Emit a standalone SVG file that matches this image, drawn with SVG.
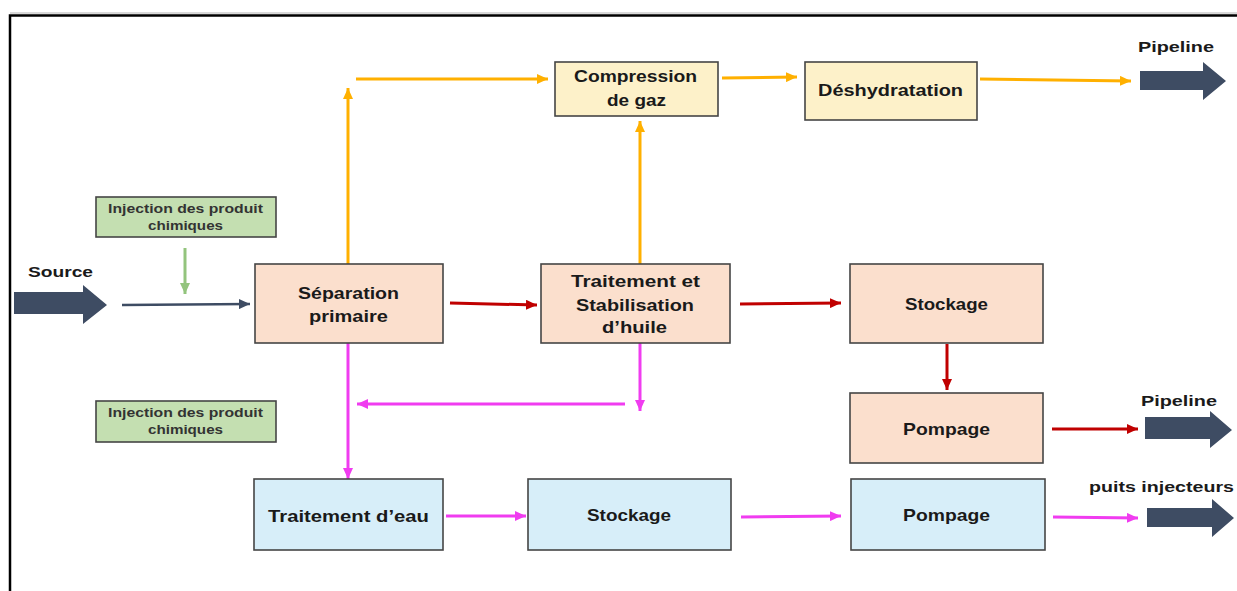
<svg xmlns="http://www.w3.org/2000/svg" width="1237" height="591" viewBox="0 0 1237 591">
<style>
text{font-family:"Liberation Sans",Arial,sans-serif;font-weight:bold;fill:#1a1a1a;text-anchor:middle}
.lbl{font-size:16.5px}
.inj{font-size:13px;fill:#333}
.ext{font-size:15px}
.box{stroke:#454545;stroke-width:1.6}
.peach{fill:#fbdfcd}
.yel{fill:#fdf1c9}
.blue{fill:#d7eef9}
.grn{fill:#c4dfb1}
.big{fill:#3e4c63}
.c{fill:none;stroke-width:3}
.o{stroke:#ffb000}
.r{stroke:#c00000}
.m{stroke:#f03cf0}
.g{stroke:#93c47d}
.n{stroke:#3e4c63;stroke-width:2.5}
</style>
<defs>
<marker id="ao" markerUnits="userSpaceOnUse" markerWidth="11" markerHeight="10" refX="11" refY="5" orient="auto"><path d="M0,0 L11,5 L0,10 z" fill="#ffb000"/></marker>
<marker id="ar" markerUnits="userSpaceOnUse" markerWidth="11" markerHeight="10" refX="11" refY="5" orient="auto"><path d="M0,0 L11,5 L0,10 z" fill="#c00000"/></marker>
<marker id="am" markerUnits="userSpaceOnUse" markerWidth="11" markerHeight="10" refX="11" refY="5" orient="auto"><path d="M0,0 L11,5 L0,10 z" fill="#f03cf0"/></marker>
<marker id="ag" markerUnits="userSpaceOnUse" markerWidth="11" markerHeight="10" refX="11" refY="5" orient="auto"><path d="M0,0 L11,5 L0,10 z" fill="#93c47d"/></marker>
<marker id="an" markerUnits="userSpaceOnUse" markerWidth="11" markerHeight="10" refX="11" refY="5" orient="auto"><path d="M0,0 L11,5 L0,10 z" fill="#3e4c63"/></marker>
</defs>
<rect width="1237" height="591" fill="#ffffff"/>
<line x1="10" y1="13" x2="1237" y2="13" stroke="#d9d9d9" stroke-width="2"/>
<path d="M10,591 V15.5 H1237" fill="none" stroke="#000" stroke-width="2.5"/>

<g id="connectors">
<line class="c n" x1="122" y1="305" x2="250" y2="304" marker-end="url(#an)"/>
<line class="c g" x1="185" y1="248" x2="185" y2="294" marker-end="url(#ag)"/>
<line class="c o" x1="348" y1="264" x2="348" y2="88" marker-end="url(#ao)"/>
<line class="c o" x1="356" y1="79" x2="548" y2="79" marker-end="url(#ao)"/>
<line class="c o" x1="640" y1="264" x2="640" y2="121" marker-end="url(#ao)"/>
<line class="c o" x1="722" y1="78" x2="797" y2="77" marker-end="url(#ao)"/>
<line class="c o" x1="980" y1="79" x2="1131" y2="81" marker-end="url(#ao)"/>
<line class="c r" x1="450" y1="303" x2="537" y2="305" marker-end="url(#ar)"/>
<line class="c r" x1="740" y1="304" x2="841" y2="303" marker-end="url(#ar)"/>
<line class="c r" x1="947" y1="344" x2="947" y2="390" marker-end="url(#ar)"/>
<line class="c r" x1="1052" y1="429" x2="1138" y2="429" marker-end="url(#ar)"/>
<line class="c m" x1="348" y1="343" x2="348" y2="479" marker-end="url(#am)"/>
<line class="c m" x1="640" y1="343" x2="640" y2="411" marker-end="url(#am)"/>
<line class="c m" x1="625" y1="404" x2="357" y2="404" marker-end="url(#am)"/>
<line class="c m" x1="446" y1="516" x2="526" y2="516" marker-end="url(#am)"/>
<line class="c m" x1="741" y1="517" x2="841" y2="516" marker-end="url(#am)"/>
<line class="c m" x1="1053" y1="517" x2="1138" y2="518" marker-end="url(#am)"/>
</g>

<g id="source">
<polygon class="big" points="14,292 83,292 83,285 107,305 83,324 83,314 14,314"/>
<text class="ext" x="60.5" y="277" textLength="65" lengthAdjust="spacingAndGlyphs">Source</text>
</g>
<g id="pipeline-gas">
<polygon class="big" points="1140,71 1203,71 1203,62 1226,81 1203,100 1203,90 1140,90"/>
<text class="ext" x="1176" y="52" textLength="76" lengthAdjust="spacingAndGlyphs">Pipeline</text>
</g>
<g id="pipeline-oil">
<polygon class="big" points="1145,417 1210,417 1210,411 1232,430 1210,448 1210,439 1145,439"/>
<text class="ext" x="1179" y="406" textLength="76" lengthAdjust="spacingAndGlyphs">Pipeline</text>
</g>
<g id="puits">
<polygon class="big" points="1147,508 1212,508 1212,499 1234,518 1212,537 1212,527 1147,527"/>
<text class="ext" x="1161.5" y="492" textLength="145" lengthAdjust="spacingAndGlyphs">puits injecteurs</text>
</g>

<g id="injection1">
<rect class="box grn" x="96" y="197" width="180" height="40"/>
<text class="inj" x="185.5" y="213" textLength="155" lengthAdjust="spacingAndGlyphs">Injection des produit</text>
<text class="inj" x="185.5" y="230" textLength="75" lengthAdjust="spacingAndGlyphs">chimiques</text>
</g>
<g id="injection2">
<rect class="box grn" x="96" y="401" width="180" height="41"/>
<text class="inj" x="185.5" y="417" textLength="155" lengthAdjust="spacingAndGlyphs">Injection des produit</text>
<text class="inj" x="185.5" y="434" textLength="75" lengthAdjust="spacingAndGlyphs">chimiques</text>
</g>

<g id="separation">
<rect class="box peach" x="255" y="264" width="188" height="79"/>
<text class="lbl" x="348.5" y="299" textLength="101" lengthAdjust="spacingAndGlyphs">Séparation</text>
<text class="lbl" x="348.5" y="322" textLength="79" lengthAdjust="spacingAndGlyphs">primaire</text>
</g>
<g id="compression">
<rect class="box yel" x="555" y="62" width="163" height="54"/>
<text class="lbl" x="635.5" y="82" textLength="123" lengthAdjust="spacingAndGlyphs">Compression</text>
<text class="lbl" x="636.5" y="106" textLength="59" lengthAdjust="spacingAndGlyphs">de gaz</text>
</g>
<g id="deshydratation">
<rect class="box yel" x="805" y="62" width="172" height="58"/>
<text class="lbl" x="890.5" y="96" textLength="145" lengthAdjust="spacingAndGlyphs">Déshydratation</text>
</g>
<g id="traitement-huile">
<rect class="box peach" x="541" y="264" width="189" height="79"/>
<text class="lbl" x="635.5" y="287" textLength="129" lengthAdjust="spacingAndGlyphs">Traitement et</text>
<text class="lbl" x="635" y="311" textLength="118" lengthAdjust="spacingAndGlyphs">Stabilisation</text>
<text class="lbl" x="634.5" y="333" textLength="65" lengthAdjust="spacingAndGlyphs">d’huile</text>
</g>
<g id="stockage-huile">
<rect class="box peach" x="850" y="264" width="193" height="79"/>
<text class="lbl" x="946.5" y="310" textLength="83" lengthAdjust="spacingAndGlyphs">Stockage</text>
</g>
<g id="pompage-huile">
<rect class="box peach" x="850" y="393" width="193" height="70"/>
<text class="lbl" x="946.5" y="435" textLength="87" lengthAdjust="spacingAndGlyphs">Pompage</text>
</g>
<g id="traitement-eau">
<rect class="box blue" x="254" y="479" width="189" height="71"/>
<text class="lbl" x="348.5" y="522" textLength="161" lengthAdjust="spacingAndGlyphs">Traitement d’eau</text>
</g>
<g id="stockage-eau">
<rect class="box blue" x="528" y="479" width="203" height="71"/>
<text class="lbl" x="629" y="521" textLength="84" lengthAdjust="spacingAndGlyphs">Stockage</text>
</g>
<g id="pompage-eau">
<rect class="box blue" x="851" y="479" width="194" height="71"/>
<text class="lbl" x="946.5" y="521" textLength="87" lengthAdjust="spacingAndGlyphs">Pompage</text>
</g>
</svg>
